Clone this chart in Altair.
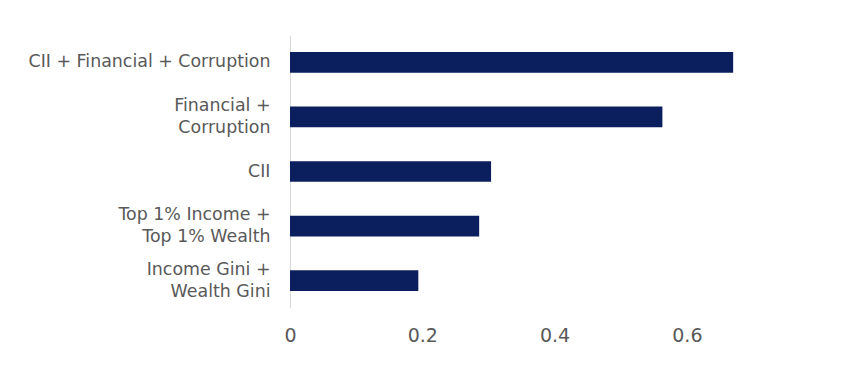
import altair as alt
import pandas as pd

categories = [
    "CII + Financial + Corruption",
    "Financial +|Corruption",
    "CII",
    "Top 1% Income +|Top 1% Wealth",
    "Income Gini +|Wealth Gini",
]
values = [0.670, 0.563, 0.304, 0.286, 0.194]

df = pd.DataFrame({"cat": categories, "val": values})

chart = (
    alt.Chart(df)
    .mark_bar(color="#0b1f5e")
    .encode(
        x=alt.X(
            "val:Q",
            scale=alt.Scale(domain=[0, 0.7], nice=False),
            axis=alt.Axis(
                values=[0, 0.2, 0.4, 0.6],
                format="~g",
                grid=False,
                domain=False,
                ticks=False,
                labelFlush=False,
                labelFont="DejaVu Sans",
                labelFontSize=19,
                labelColor="#595959",
                labelPadding=18,
                title=None,
            ),
        ),
        y=alt.Y(
            "cat:N",
            sort=None,
            scale=alt.Scale(paddingInner=0.62, paddingOuter=0.31),
            axis=alt.Axis(
                title=None,
                ticks=False,
                domainColor="#d9d9d9",
                labelFont="DejaVu Sans",
                labelFontSize=17.4,
                labelColor="#595959",
                labelPadding=20,
                labelLineHeight=22,
                labelLimit=400,
                labelOffset={
                    "condition": {"test": "indexof(datum.value, '|') >= 0", "value": -11},
                    "value": 0,
                },
                labelExpr="split(datum.value, '|')",
            ),
        ),
    )
    .properties(
        width=463,
        height=273,
        autosize=alt.AutoSizeParams(type="none"),
        padding={"left": 282, "top": 27, "right": 10, "bottom": 60},
    )
    .configure_view(stroke=None)
)

chart.save("out.html", embed_options={"renderer": "svg", "actions": False})
